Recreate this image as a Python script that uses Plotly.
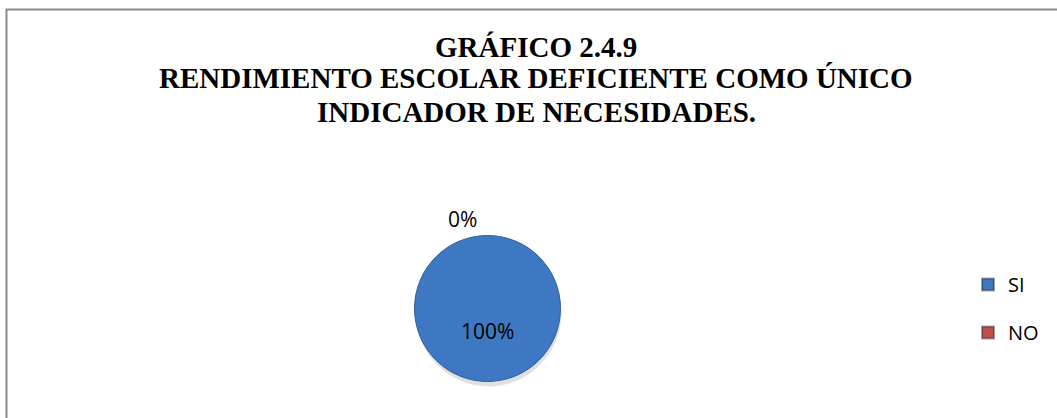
import plotly.graph_objects as go

categories = ["SI", "NO"]
values = [100, 0]
colors = ["#3f78c2", "#c0504d"]
title_lines = ["GRÁFICO 2.4.9", "RENDIMIENTO ESCOLAR DEFICIENTE COMO ÚNICO", "INDICADOR DE NECESIDADES."]

W, H = 1057, 418
total = sum(values)
pcts = [f"{round(v / total * 100)}%" for v in values]

cx, cy, r = 487.5, 308.5, 73
dom_x = [(cx - r) / W, (cx + r) / W]
dom_y = [1 - (cy + r) / H, 1 - (cy - r) / H]

fig = go.Figure()
# soft shadow
fig.add_shape(type="circle", xref="paper", yref="paper",
              x0=(cx - r + 1) / W, x1=(cx + r + 1) / W,
              y0=1 - (cy + r + 5) / H, y1=1 - (cy - r + 3) / H,
              fillcolor="rgba(0,0,0,0.12)", line=dict(width=0), layer="below")
fig.add_trace(go.Pie(labels=categories, values=values, sort=False, direction="clockwise",
                     marker=dict(colors=colors, line=dict(color="#2f5f9e", width=[1, 0])),
                     textinfo="none", showlegend=False, domain=dict(x=dom_x, y=dom_y),
                     hoverinfo="label+percent"))
for c, col in zip(categories, colors):
    fig.add_trace(go.Scatter(x=[None], y=[None], mode="markers", name=c,
                             legendgroup=c,
                             marker=dict(symbol="square", size=15, color=col,
                                         line=dict(color="rgba(0,0,0,0.35)", width=1))))

lab_font = dict(family="Open Sans, Liberation Sans", size=21, color="#000")
# data labels
fig.add_annotation(x=cx / W, y=1 - 347 / H, xref="paper", yref="paper", text=pcts[0],
                   showarrow=False, font=lab_font)
fig.add_annotation(x=462 / W, y=1 - 219 / H, xref="paper", yref="paper", text=pcts[1],
                   showarrow=False, font=lab_font)

# title lines
for line, yc in zip(title_lines, [47, 78, 112]):
    fig.add_annotation(x=536 / W, y=1 - yc / H, xref="paper", yref="paper",
                       text=f"<b>{line}</b>", showarrow=False, yanchor="middle",
                       font=dict(family="Liberation Serif, Times New Roman", size=29, color="#000"))

# border
fig.add_shape(type="rect", xref="paper", yref="paper", x0=6.5 / W, x1=1.02, y0=-0.02, y1=1 - 9.5 / H,
              line=dict(color="#8a8a8a", width=2))

fig.update_layout(
    width=W, height=H, margin=dict(l=0, r=0, t=0, b=0),
    paper_bgcolor="white", plot_bgcolor="white",
    xaxis=dict(visible=False), yaxis=dict(visible=False),
    legend=dict(x=968 / W, y=1 - 265 / H, xanchor="left", yanchor="top",
                font=dict(family="Open Sans, Liberation Sans", size=20, color="#000"),
                tracegroupgap=19, itemsizing="constant", bgcolor="rgba(0,0,0,0)"),
)

fig.write_html("out.html", config={"displayModeBar": False},
               post_script="document.body.style.margin='0px';")
